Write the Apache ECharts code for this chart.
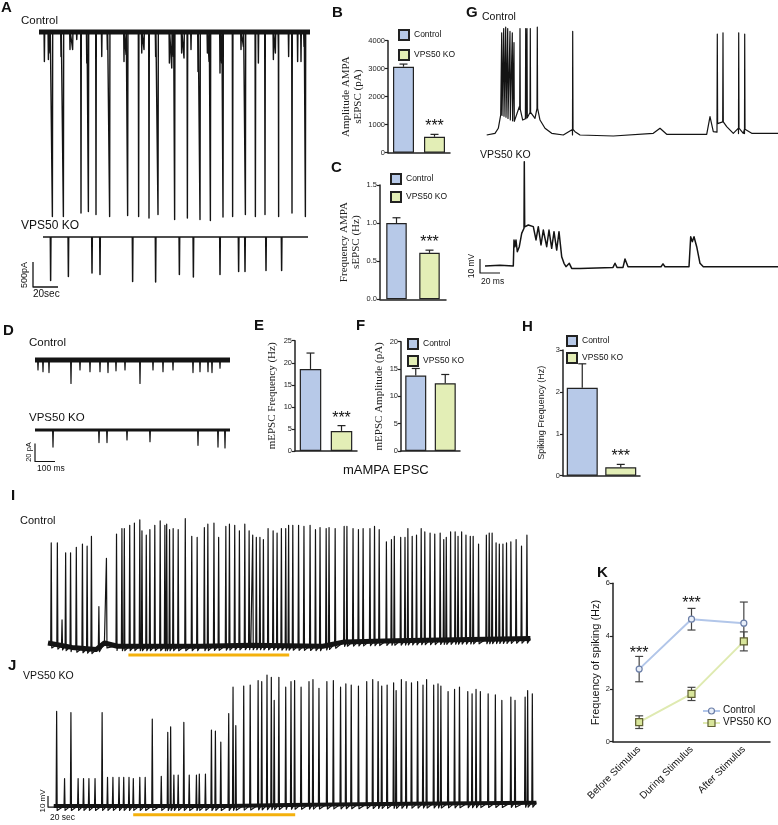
<!DOCTYPE html>
<html>
<head>
<meta charset="utf-8">
<script src="https://cdn.jsdelivr.net/npm/echarts@6/dist/echarts.min.js"></script>
<style>
  html, body { margin: 0; padding: 0; background: #fff; }
  #fig { width: 778px; height: 825px; }
</style>
</head>
<body>
<div id="fig"></div>
<script>
// ---------- summary data ----------
const groups = ['Control', 'VPS50 KO'];
const ampMean = [3070, 570], ampErr = [95, 85];          // B, pA
const freqMean = [1.0, 0.61], freqErr = [0.07, 0.035];   // C, Hz
const mFreqMean = [18.6, 4.55], mFreqErr = [3.6, 1.2];   // E, Hz
const mAmpMean = [13.8, 12.4], mAmpErr = [1.3, 1.6];     // F, pA
const spikeMean = [2.1, 0.2], spikeErr = [0.57, 0.07];   // H, Hz
const stimPhases = ['Before Stimulus', 'During Stimulus', 'After Stimulus'];
const kCtrlMean = [2.75, 4.64, 4.49], kCtrlErr = [0.48, 0.41, 0.8];
const kKoMean = [0.74, 1.81, 3.8], kKoErr = [0.24, 0.25, 0.36];

// ---------- trace data ----------
// A: sEPSC recordings, time in s, current in pA
const aCtrlSpan = [4.8, 221.6];
const aCtrlSpikeT = [15.5,24.3,38.4,44.3,50.4,61.3,75.7,84.5,92.8,100,113.3,123.5,133.6,141.9,152,159.7,169.9,177.9,185.6,196.5,207.2,217.9];
const aCtrlSpikeAmp = [-3690,-3690,-3620,-3590,-3650,-3690,-3670,-3690,-3720,-3650,-3750,-3720,-3750,-3770,-3700,-3690,-3650,-3690,-3650,-3690,-3620,-3690];
const aCtrlMiniT = [9.1,12.3,13.6,22.4,29.6,31.7,35,43,55,59.5,72.8,74.4,87,88.8,98.1,109.1,111,112.3,118.9,120.8,126.4,132,139.5,140.8,149.6,150.9,166.4,168.3,180.3,192.3,193.9,196.3,204.5,211.7,214.4,216.8];
const aCtrlMiniAmp = [-590,-550,-420,-490,-350,-350,-150,-620,-490,-350,-590,-450,-420,-350,-490,-620,-720,-490,-420,-520,-350,-790,-420,-590,-820,-620,-350,-290,-620,-550,-420,-350,-490,-590,-590,-290];
const aKoSpan = [8, 220];
const aKoSpikeT = [14.1,28.3,47.2,53.6,79.7,98.1,117.1,128.3,149.6,164.5,169.6,186.4,198.9];
const aKoSpikeAmp = [-870,-790,-720,-750,-890,-900,-750,-800,-750,-690,-690,-670,-670];
const aScale = [[0, -500], [0, -1000], [20, -1000]];      // 500 pA, 20 s

// D: mEPSC recordings, time in ms, current in pA
const dSpan = [0, 975];
const dCtrlT = [15,40,70,180,225,275,325,365,405,450,525,590,640,690,790,825,865,885,925];
const dCtrlAmp = [-11,-13,-14,-26,-11,-13,-13,-14,-12,-11,-26,-11,-13,-11,-14,-13,-13,-14,-9];
const dKoT = [90,320,360,460,575,815,915,950];
const dKoAmp = [-19,-14,-14,-11,-13,-17,-19,-20];
const dScale = [[0, -15], [0, -35], [100, -35]];          // 20 pA, 100 ms

// G: membrane potential, time in ms, mV
const gCtrlBase = [[6.7,-60],[15,-58.8],[18.3,-55.2],[20.7,-45.7],[25,-46.9],[30,-49.3],[35,-50.5],[39.3,-39.8],[42.7,-49.3],[46.7,-48.1],[50.7,-43.4],[55,-48.1],[57.3,-40.9],[60,-49.3],[65,-55.2],[71.7,-58.8],[83.3,-60],[92.5,-60],[93,-50],[95,-57.6],[100,-60],[133.3,-60.7],[173.3,-58.8],[180,-55.2],[186.7,-59.5],[226.7,-59.5],[230,-46.9],[233.3,-57.6],[237,-58],[237.6,-45.7],[246.7,-54],[253.3,-58.8],[258.5,-59],[259,-49.3],[263.3,-58.8],[264.5,-59],[265,-51.4],[271.7,-58.8],[298,-58.8]];
const gCtrlSpikeT = [21.7,23.7,25.7,27.7,30,32.3,34,40,45.7,47,50.3,57.3,92.7,237.3,243,258.7,264.7];
const gCtrlSpikePeak = [13,16,17,16,14,13,6,16,16,16,16,17,14,12,13,13,12];
const gKoTrace = [[5,-60],[20,-59.5],[33.3,-60],[34,-41.4],[35,-46.2],[36,-41.4],[37.3,-49.8],[39.3,-46.2],[41.7,-36.7],[44,-33],[44.3,14.5],[44.7,-32],[48.3,-30.7],[53.3,-31.9],[56,-41.4],[58.3,-31.9],[61,-45],[63.3,-34.3],[66.7,-46.2],[69,-34.3],[71.7,-47.4],[74,-35.5],[76.7,-48.6],[79,-35.5],[81.7,-53.4],[84,-58.1],[86,-60.5],[89.3,-58.1],[91.7,-61.7],[100,-61.7],[133,-61],[135,-58],[137,-61],[143,-61],[145,-55],[148,-60.5],[165,-60.5],[181,-60.5],[183,-58.5],[185,-60.5],[209,-60.5],[210.7,-39.1],[212.3,-42.6],[214,-39.1],[216.7,-46.2],[220,-58.1],[223.3,-60.5],[298,-60.5]];
const gScale = [[0, -55], [0, -65], [20, -65]];            // 10 mV, 20 ms

// I / J: long recordings, time in s, mV
const iBase = [[0,-60],[20,-64],[40,-66],[47,-60],[58,-63],[127,-63],[169,-62],[229,-63],[247,-59],[289,-58],[402,-56]];
const iSpikeT = [2.7,7.8,11.7,14.7,18.8,23.6,28.7,32.6,36.2,42.4,48.7,57.1,61.6,63.6,68.1,72.0,76.5,78.3,81.9,84.9,89.0,93.5,97.4,98.9,101.3,104.3,108.5,114.4,119.8,124.3,130.3,133.2,138.3,142.2,148.2,151.2,155.6,159.5,164.0,167.6,170.6,173.6,176.6,179.5,183.4,187.6,190.9,194.5,198.1,200.5,204.0,208.8,213.3,218.4,222.9,226.7,231.8,234.2,239.3,246.8,249.1,254.2,258.7,262.6,268.3,272.1,276.0,282.0,286.2,288.6,293.9,297.5,299.9,303.5,307.1,311.0,314.0,318.4,322.3,326.8,329.8,331.9,335.5,339.3,341.7,344.7,348.3,351.9,354.3,358.8,365.3,367.7,370.1,373.4,376.1,379.1,382.1,385.7,390.1,394.6,399.1];
const iSpikePeak = [31,31,-39,22,22,27,30,28,37,-27,17,39,44,44,47,49,52,42,38,43,47,51,47,48,43,44,43,53,37,36,45,48,49,36,46,48,47,42,48,42,38,36,36,34,44,42,40,44,44,47,47,47,46,47,43,45,44,45,44,46,46,44,43,44,44,46,43,32,34,37,36,36,44,37,38,44,41,40,39,40,34,36,41,41,37,41,38,37,37,30,38,40,40,31,30,30,31,32,34,28,38];
const iStim = [67, 201];
const jBase = [[4.8,-60],[150,-60],[200,-59],[300,-58],[407,-57]];
const jSpikeT = [7.2,13.8,19.1,25.1,29.6,34.1,39.2,45.1,49.6,54.1,59.2,63.1,67.5,71.1,76.5,81.0,86.9,94.4,99.8,102.2,104.9,108.5,113.2,117.7,123.7,126.1,131.2,136.2,139.5,144.0,150.6,154.2,156.5,163.1,168.5,175.1,178.1,182.5,186.1,188.5,192.4,198.1,202.5,205.5,210.9,217.5,220.8,225.8,232.4,237.8,243.8,248.2,252.7,258.7,265.6,270.6,275.1,278.1,282.6,288.0,290.1,294.5,298.4,302.9,308.0,312.5,315.5,321.4,325.0,327.4,333.4,338.8,342.9,349.8,353.4,356.7,360.3,366.8,372.8,378.2,385.7,389.2,397.6,399.7,403.6];
const jSpikePeak = [26,-35,25,-35,-35,-35,-35,25,-34,-34,-34,-34,-34,-35,-34,-34,19,-33,7,12,-32,-32,16,-32,-32,-31,-31,9,8,-2,24,48,13,49,50,54,53,59,57,36,57,48,53,54,48,53,55,47,53,54,48,51,50,49,53,55,53,49,50,52,45,55,53,52,53,50,55,50,51,49,44,46,48,44,42,46,44,42,41,36,39,36,39,45,42];
const jStim = [71, 206];
const jScale = [[0, -51], [0, -61], [20, -61]];            // 10 mV, 20 s

// ---------- styles ----------
const SANS = 'Liberation Sans, Arial, sans-serif';
const SERIF = 'Liberation Serif, Times New Roman, serif';
const INK = '#141414';
const AX = '#222';
const CTRL_FILL = '#b7c9e8';
const KO_FILL = '#e3eeb6';
const STIM = '#f4b10c';

const grids = [], xAxes = [], yAxes = [], series = [], legends = [], graphics = [];

function addGrid(left, top, width, height, xa, ya) {
  const i = grids.length;
  grids.push({ left, top, width, height, containLabel: false });
  xAxes.push(Object.assign({ gridIndex: i }, xa));
  yAxes.push(Object.assign({ gridIndex: i }, ya));
  return i;
}
const hidden = (min, max) => ({ type: 'value', min, max, show: false });

function line(gi, data, color, width) {
  series.push({
    type: 'line', xAxisIndex: gi, yAxisIndex: gi, data, symbol: 'none',
    silent: true, clip: false, lineStyle: { color, width, join: 'round' }, z: 2
  });
}

// value of a piecewise baseline at time t
function baseAt(base, t) {
  if (t <= base[0][0]) return base[0][1];
  for (let k = 1; k < base.length; k++) {
    if (t <= base[k][0]) {
      const a = base[k - 1], b = base[k];
      return a[1] + (b[1] - a[1]) * (t - a[0]) / (b[0] - a[0]);
    }
  }
  return base[base.length - 1][1];
}

// baseline plus a list of fast events (spikes or synaptic currents)
function eventTrace(base, times, peaks, w, ahp) {
  const pts = base.map(p => p.slice());
  times.forEach((t, k) => {
    const b = baseAt(base, t);
    pts.push([t - w, b], [t, peaks[k]], [t + w, b - ahp]);
  });
  return pts.sort((p, q) => p[0] - q[0]);
}

// ---------- A ----------
const gA1 = addGrid(33, 27, 277, 195, hidden(0, 221.6), hidden(-3800, 100));
const gA2 = addGrid(33, 232, 277, 60, hidden(0, 221.6), hidden(-1100, 100));
const aCtrlBase = [[aCtrlSpan[0], 0], [aCtrlSpan[1], 0]];
line(gA1, aCtrlBase, INK, 5);
line(gA1, eventTrace(aCtrlBase, aCtrlSpikeT.concat(aCtrlMiniT), aCtrlSpikeAmp.concat(aCtrlMiniAmp), 0.25, 0), INK, 1.4);
const aKoBase = [[aKoSpan[0], 0], [aKoSpan[1], 0]];
line(gA2, eventTrace(aKoBase, aKoSpikeT, aKoSpikeAmp, 0.25, 0), INK, 1.5);
line(gA2, aScale, INK, 1.3);

// ---------- D ----------
const gD1 = addGrid(35, 355.5, 195, 31.5, hidden(dSpan[0], dSpan[1]), hidden(-30, 5));
const gD2 = addGrid(35, 425.5, 195, 40.5, hidden(dSpan[0], dSpan[1]), hidden(-40, 5));
const dBase = [[dSpan[0], 0], [dSpan[1], 0]];
line(gD1, dBase, INK, 5);
line(gD1, eventTrace(dBase, dCtrlT, dCtrlAmp, 2, 0), INK, 1.2);
line(gD2, dBase, INK, 3);
line(gD2, eventTrace(dBase, dKoT, dKoAmp, 2, 0), INK, 1.2);
line(gD2, dScale, INK, 1.2);

// ---------- G ----------
const gG1 = addGrid(480, 23, 298, 119, hidden(0, 298), hidden(-65, 20));
const gG2 = addGrid(480, 154, 298, 133, hidden(0, 298), hidden(-75, 20));
line(gG1, eventTrace(gCtrlBase, gCtrlSpikeT, gCtrlSpikePeak, 0.3, 0), INK, 1.2);
line(gG2, gKoTrace, INK, 1.5);
line(gG2, gScale, INK, 1.2);

// ---------- I / J ----------
const gI = addGrid(48, 516.5, 492, 138.6, hidden(0, 410), hidden(-71, 55));
const gJ = addGrid(48, 674, 492, 140.8, hidden(0, 410), hidden(-68, 60));
line(gI, iBase, INK, 5);
line(gI, eventTrace(iBase, iSpikeT, iSpikePeak, 0.45, 4), INK, 1.2);
line(gI, [[iStim[0], -71], [iStim[1], -71]], STIM, 3);
line(gJ, jBase, INK, 4);
line(gJ, eventTrace(jBase, jSpikeT, jSpikePeak, 0.45, 4), INK, 1.2);
line(gJ, [[jStim[0], -68], [jStim[1], -68]], STIM, 3);
line(gJ, jScale, INK, 1.2);

// ---------- bar panels ----------
function errRender(both, half, color) {
  return function (params, api) {
    const x = api.value(0), m = api.value(1), e = api.value(2);
    const top = api.coord([x, m + e]);
    const mid = api.coord([x, m]);
    const bot = both ? api.coord([x, m - e]) : mid;
    const st = { stroke: color, lineWidth: 1.2, fill: null };
    const children = [
      { type: 'line', shape: { x1: top[0], y1: top[1], x2: bot[0], y2: bot[1] }, style: st },
      { type: 'line', shape: { x1: top[0] - half, y1: top[1], x2: top[0] + half, y2: top[1] }, style: st }
    ];
    if (both) children.push({ type: 'line', shape: { x1: bot[0] - half, y1: bot[1], x2: bot[0] + half, y2: bot[1] }, style: st });
    return { type: 'group', children };
  };
}

function barPanel(o) {
  const gi = addGrid(o.left, o.top, o.width, o.height,
    { type: 'category', data: groups, axisLine: { lineStyle: { color: AX, width: 1.5 } },
      axisTick: { show: false }, axisLabel: { show: false } },
    { type: 'value', min: 0, max: o.max, interval: o.interval,
      name: o.name, nameLocation: 'middle', nameGap: o.nameGap,
      nameTextStyle: { fontFamily: o.font, fontSize: o.nameSize, color: '#222', lineHeight: o.nameSize + 1.5 },
      axisLine: { show: true, lineStyle: { color: AX, width: 1.5 } },
      axisTick: { show: true, length: 3, lineStyle: { color: AX, width: 1.2 } },
      axisLabel: { fontSize: 7.5, fontFamily: SANS, color: '#222', margin: 3, formatter: o.fmt || (v => String(v)) },
      splitLine: { show: false } });
  const common = { xAxisIndex: gi, yAxisIndex: gi, barWidth: o.barWidth, barGap: '-100%', silent: true };
  series.push(Object.assign({ type: 'bar', name: groups[0], data: [o.mean[0], '-'],
    itemStyle: { color: CTRL_FILL, borderColor: AX, borderWidth: 1.2 } }, common));
  series.push(Object.assign({ type: 'bar', name: groups[1],
    data: ['-', { value: o.mean[1], label: { show: o.star, position: 'top', distance: o.starGap,
      formatter: '***', fontSize: 16, fontFamily: SANS, color: '#111' } }],
    itemStyle: { color: KO_FILL, borderColor: AX, borderWidth: 1.2 } }, common));
  series.push({ type: 'custom', xAxisIndex: gi, yAxisIndex: gi, silent: true, z: 3,
    renderItem: errRender(false, 4, AX), data: o.mean.map((m, k) => [k, m, o.err[k]]) });
  if (o.legend) {
    legends.push({ left: o.legend[0], top: o.legend[1], orient: 'vertical', padding: 0,
      icon: 'rect', itemWidth: 10, itemHeight: 10, itemGap: o.legend[2], selectedMode: false,
      data: groups, textStyle: { fontSize: 8.5, fontFamily: SANS, color: '#111' } });
  }
  return gi;
}

barPanel({ left: 388, top: 40.7, width: 62, height: 112, max: 4000, interval: 1000,
  mean: ampMean, err: ampErr, barWidth: 21, star: true, starGap: 2,
  name: 'Amplitude AMPA\nsEPSC (pA)', font: SERIF, nameSize: 11, nameGap: 23,
  legend: [398, 29, 8] });
barPanel({ left: 380, top: 185, width: 66, height: 114.3, max: 1.5, interval: 0.5,
  mean: freqMean, err: freqErr, barWidth: 20.5, star: true, starGap: 2,
  fmt: v => v.toFixed(1),
  name: 'Frequency AMPA\nsEPSC (Hz)', font: SERIF, nameSize: 11, nameGap: 13,
  legend: [390, 173, 6] });
barPanel({ left: 295, top: 340.7, width: 62, height: 110.3, max: 25, interval: 5,
  mean: mFreqMean, err: mFreqErr, barWidth: 21.5, star: true, starGap: 4,
  name: 'mEPSC Frequency (Hz)', font: SERIF, nameSize: 11, nameGap: 17 });
barPanel({ left: 401, top: 341.7, width: 59, height: 109.3, max: 20, interval: 5,
  mean: mAmpMean, err: mAmpErr, barWidth: 21, star: false, starGap: 0,
  name: 'mEPSC Amplitude (pA)', font: SERIF, nameSize: 11, nameGap: 16,
  legend: [407, 338, 5] });
barPanel({ left: 563, top: 350, width: 77, height: 125.7, max: 3, interval: 1,
  mean: spikeMean, err: spikeErr, barWidth: 31, star: true, starGap: 3,
  name: 'Spiking Frequency (Hz)', font: SANS, nameSize: 9, nameGap: 16,
  legend: [566, 335, 5] });

// ---------- K ----------
const gK = addGrid(613, 583.3, 157, 158.4,
  { type: 'category', data: stimPhases, boundaryGap: true,
    axisLine: { lineStyle: { color: AX, width: 1.5 } },
    axisTick: { alignWithLabel: true, length: 4, lineStyle: { color: AX, width: 1.2 } },
    axisLabel: { rotate: 45, interval: 0, fontSize: 10, fontFamily: SANS, color: '#111', margin: 6 } },
  { type: 'value', min: 0, max: 6, interval: 2,
    name: 'Frequency of spiking (Hz)', nameLocation: 'middle', nameGap: 12,
    nameTextStyle: { fontFamily: SANS, fontSize: 11, color: '#111' },
    axisLine: { show: true, lineStyle: { color: AX, width: 1.5 } },
    axisTick: { show: true, length: 3, lineStyle: { color: AX, width: 1.2 } },
    axisLabel: { fontSize: 7.5, fontFamily: SANS, color: '#222', margin: 3 },
    splitLine: { show: false } });
const starLabel = { show: true, position: 'top', distance: 4, formatter: '***', fontSize: 16, fontFamily: SANS, color: '#111' };
series.push({ type: 'custom', xAxisIndex: gK, yAxisIndex: gK, silent: true, z: 1,
  renderItem: errRender(true, 4, '#444'), data: kCtrlMean.map((m, k) => [k, m, kCtrlErr[k]]) });
series.push({ type: 'custom', xAxisIndex: gK, yAxisIndex: gK, silent: true, z: 1,
  renderItem: errRender(true, 4, '#444'), data: kKoMean.map((m, k) => [k, m, kKoErr[k]]) });
series.push({ type: 'line', name: groups[0], xAxisIndex: gK, yAxisIndex: gK, silent: true, z: 2,
  data: kCtrlMean.map((m, k) => k < 2 ? { value: m, label: starLabel } : m),
  symbol: 'circle', symbolSize: 6,
  itemStyle: { color: '#e9eff9', borderColor: '#6c7fa8', borderWidth: 1.2 },
  lineStyle: { color: '#b2c6e9', width: 2 } });
series.push({ type: 'line', name: groups[1], xAxisIndex: gK, yAxisIndex: gK, silent: true, z: 2,
  data: kKoMean, symbol: 'rect', symbolSize: 7,
  itemStyle: { color: '#d8e59b', borderColor: '#5f5f32', borderWidth: 1.2 },
  lineStyle: { color: '#dfeab1', width: 2 } });

// ---------- texts ----------
function text(x, y, str, size, extra) {
  graphics.push(Object.assign({ type: 'text', x, y, silent: true,
    style: Object.assign({ text: str, fontSize: size, fontFamily: SANS, fill: '#111',
      align: 'left', verticalAlign: 'top' }, (extra && extra.style) || {}) },
    extra && extra.rotation ? { rotation: extra.rotation } : {}));
}
const bold = { style: { fontWeight: 'bold' } };
const vert = (s) => ({ rotation: Math.PI / 2, style: Object.assign({ align: 'center', verticalAlign: 'middle' }, s || {}) });

text(1, 0, 'A', 15, bold);
text(332, 5, 'B', 15, bold);
text(331, 160, 'C', 15, bold);
text(3, 323, 'D', 15, bold);
text(254, 318, 'E', 15, bold);
text(356, 318, 'F', 15, bold);
text(466, 5, 'G', 15, bold);
text(522, 319, 'H', 15, bold);
text(11, 488, 'I', 15, bold);
text(8, 658, 'J', 15, bold);
text(597, 565, 'K', 15, bold);

text(21, 15, 'Control', 11.5);
text(21, 220, 'VPS50 KO', 12);
text(25, 275, '500pA', 9, vert());
text(33, 289, '20sec', 10);

text(29, 337, 'Control', 11.5);
text(29, 412, 'VPS50 KO', 11.5);
text(29, 452, '20 pA', 7.5, vert());
text(37, 464, '100 ms', 8.5);

text(482, 12, 'Control', 10.5);
text(480, 150, 'VPS50 KO', 10.5);
text(472, 266, '10 mV', 8.5, vert());
text(481, 277, '20 ms', 8.5);

text(20, 515, 'Control', 11);
text(23, 671, 'VPS50 KO', 10.5);
text(43, 801, '10 mV', 8, vert());
text(50, 813, '20 sec', 8.5);

text(343, 464, 'mAMPA EPSC', 13);

// K legend
graphics.push({ type: 'line', silent: true, shape: { x1: 703, y1: 711, x2: 720, y2: 711 }, style: { stroke: '#b2c6e9', lineWidth: 2 } });
graphics.push({ type: 'circle', silent: true, shape: { cx: 711.5, cy: 711, r: 3 }, style: { fill: '#e9eff9', stroke: '#6c7fa8', lineWidth: 1.2 } });
graphics.push({ type: 'line', silent: true, shape: { x1: 703, y1: 723, x2: 720, y2: 723 }, style: { stroke: '#dfeab1', lineWidth: 2 } });
graphics.push({ type: 'rect', silent: true, shape: { x: 708, y: 719.5, width: 7, height: 7 }, style: { fill: '#d8e59b', stroke: '#5f5f32', lineWidth: 1.2 } });
text(723, 705, 'Control', 10);
text(723, 717, 'VPS50 KO', 10);

const chart = echarts.init(document.getElementById('fig'), null, { renderer: 'canvas' });
chart.setOption({
  animation: false,
  grid: grids,
  xAxis: xAxes,
  yAxis: yAxes,
  legend: legends,
  series: series,
  graphic: { elements: graphics }
});
</script>
</body>
</html>
